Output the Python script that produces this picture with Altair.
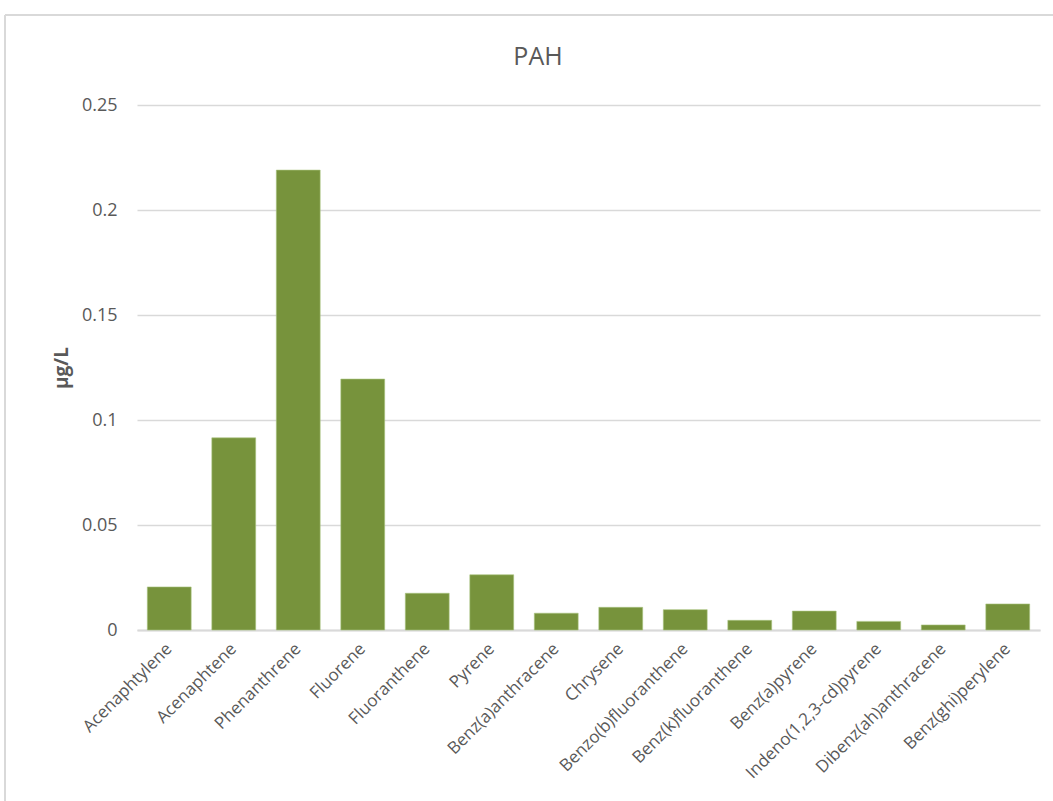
import altair as alt
import pandas as pd

compounds = [
    "Acenaphtylene", "Acenaphtene", "Phenanthrene", "Fluorene", "Fluoranthene",
    "Pyrene", "Benz(a)anthracene", "Chrysene", "Benzo(b)fluoranthene",
    "Benz(k)fluoranthene", "Benz(a)pyrene", "Indeno(1,2,3-cd)pyrene",
    "Dibenz(ah)anthracene", "Benz(ghi)perylene",
]
concentration = [
    0.0205, 0.0915, 0.219, 0.1195, 0.0175, 0.0263, 0.008, 0.0108,
    0.0097, 0.0046, 0.009, 0.0041, 0.0024, 0.0124,
]
y_ticks = [0, 0.05, 0.1, 0.15, 0.2, 0.25]
chart_title = ["PAH"]

df = pd.DataFrame({"compound": compounds, "value": concentration})

FONT = "Open Sans"
TEXT = "#595959"
GRID = "#d9d9d9"

bars = alt.Chart(df).mark_bar(color="#77933C", stroke="#a9c47f", strokeWidth=0.6).encode(
    x=alt.X(
        "compound:N",
        sort=compounds,
        title=None,
        scale=alt.Scale(paddingInner=0.32, paddingOuter=0.16),
        axis=alt.Axis(
            labelAngle=-45, labelAlign="right", labelBaseline="middle",
            labelFontSize=17, labelColor=TEXT, labelFont=FONT, labelPadding=16,
            ticks=False, domainColor=GRID, domainWidth=2, labelOverlap=False,
            labelLimit=400,
        ),
    ),
    y=alt.Y(
        "value:Q",
        title="µg/L",
        scale=alt.Scale(domain=[0, 0.25], nice=False),
        axis=alt.Axis(
            values=y_ticks, format=".2~f", ticks=False, domain=False,
            labelFontSize=18, labelColor=TEXT, labelFont=FONT, labelPadding=20,
            gridColor=GRID, gridWidth=1.5,
            titleFontSize=19, titleFont=FONT, titleColor=TEXT, titleFontWeight="bold",
            titlePadding=10,
        ),
    ),
)

# chart heading, centred over the outer frame
heading = alt.Chart(pd.DataFrame({"t": chart_title})).mark_text(
    fontSize=25, font=FONT, color=TEXT, align="center", baseline="middle"
).encode(text="t:N", x=alt.value(401), y=alt.value(-48))

# light outer frame of the chart
frame_v = alt.Chart(df).mark_rule(color=GRID, strokeWidth=1.5).encode(
    x=alt.value(-132), y=alt.value(-90), y2=alt.value(700)
)
frame_h = alt.Chart(df).mark_rule(color=GRID, strokeWidth=1.5).encode(
    x=alt.value(-132), x2=alt.value(920), y=alt.value(-90)
)

chart = (
    alt.layer(frame_v, frame_h, bars, heading)
    .properties(
        width=903,
        height=525,
        autosize=alt.AutoSizeParams(type="none"),
        padding={"left": 137, "top": 105, "right": 13, "bottom": 171},
        background="white",
    )
    .configure_view(stroke=None)
)

chart.save("out.html", embed_options={"renderer": "svg", "actions": False})
